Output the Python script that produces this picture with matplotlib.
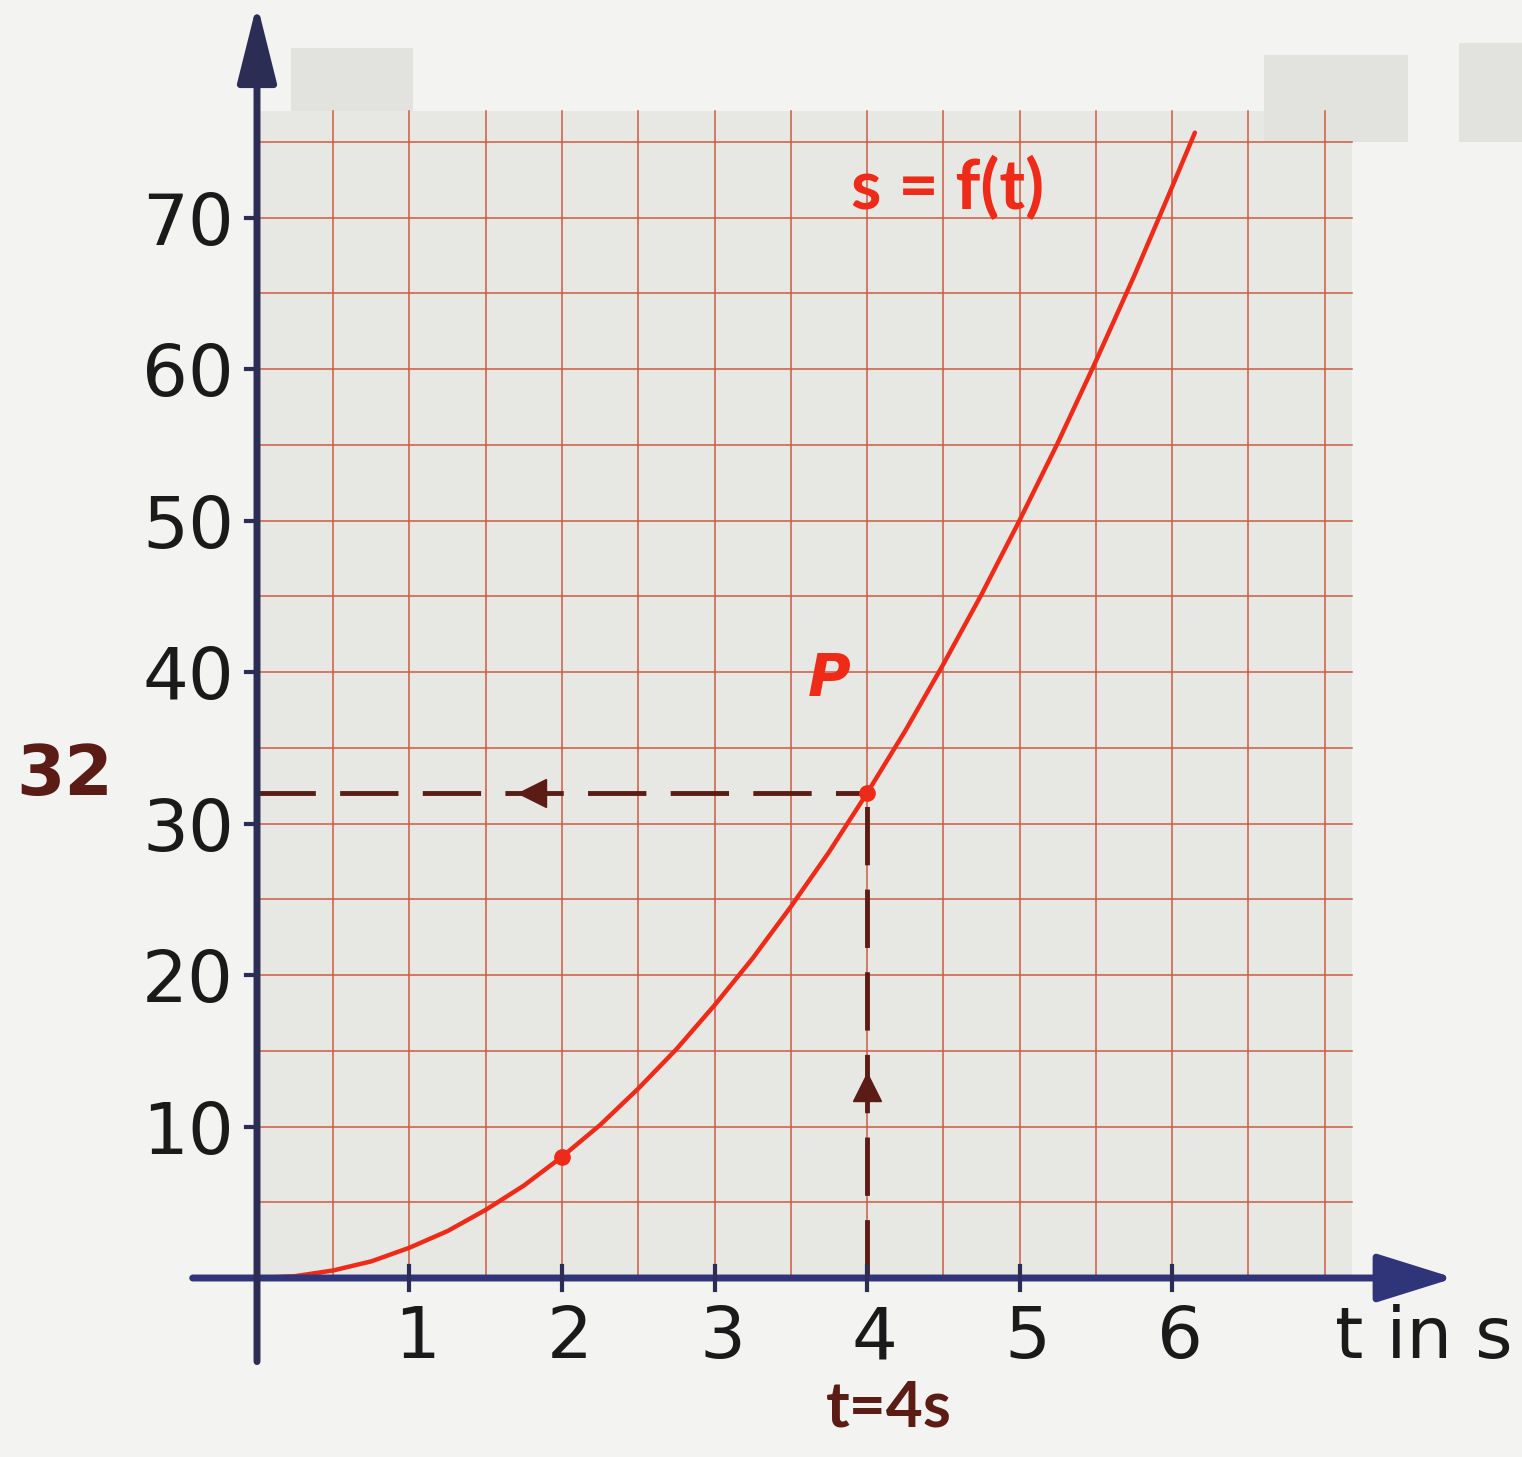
import matplotlib
matplotlib.use("Agg")
import matplotlib.pyplot as plt
from matplotlib.patches import Rectangle

# curve s = f(t)
t_vals = [0, 0.25, 0.5, 0.75, 1, 1.25, 1.5, 1.75, 2, 2.25, 2.5, 2.75, 3,
          3.25, 3.5, 3.75, 4, 4.25, 4.5, 4.75, 5, 5.25, 5.5, 5.75, 6, 6.15]
s_vals = [0, 0.12, 0.5, 1.1, 2, 3.1, 4.5, 6.1, 8, 10.1, 12.5, 15.1, 18,
          21.1, 24.5, 28.1, 32, 36.1, 40.5, 45.1, 50, 55.1, 60.5, 66.1, 72, 75.6]

marked_t = [2, 4]
marked_s = [8, 32]

point_t = 4
point_s = 32

x_ticks = [1, 2, 3, 4, 5, 6]
y_ticks = [10, 20, 30, 40, 50, 60, 70]

RED = "#ee2a18"
BROWN = "#5a1c14"
GRIDC = "#cf5a44"
AXC = "#2c2d55"

W, H = 1522, 1457
fig = plt.figure(figsize=(W / 100, H / 100), dpi=100)
fig.patch.set_facecolor("#f3f3f1")
ax = fig.add_axes([0, 0, 1, 1])
ax.set_facecolor("#f3f3f1")

# pixel -> data mapping (origin at px 257,1278)
x0, xs = 257, 152.5
y0, ys = 1278, 15.15
ax.set_xlim(-x0 / xs, (W - x0) / xs)
ax.set_ylim(-(H - y0) / ys, y0 / ys)
ax.axis("off")

# graph paper
ax.add_patch(Rectangle((0, 0), 7.18, 77, facecolor="#e7e7e3", edgecolor="none", zorder=0))
for gx in [i * 0.5 for i in range(1, 15)]:
    ax.plot([gx, gx], [0, 77], color=GRIDC, lw=1.1, zorder=1)
for gy in range(5, 80, 5):
    ax.plot([0, 7.18], [gy, gy], color=GRIDC, lw=1.1, zorder=1)

# tape pieces
for (tx, ty, tw, th) in [(0.22, 77, 0.8, 4.2), (6.6, 75, 0.95, 5.7), (7.88, 75, 0.5, 6.5)]:
    ax.add_patch(Rectangle((tx, ty), tw, th, facecolor="#e2e2de", edgecolor="none", zorder=0))

# axes with arrows
ax.annotate("", xy=(7.87, 0), xytext=(-0.44, 0),
            arrowprops=dict(arrowstyle="-|>,head_length=1.6,head_width=0.5",
                            color="#30357a", lw=5, mutation_scale=30), zorder=6)
ax.annotate("", xy=(0, 84.3), xytext=(0, -5.7),
            arrowprops=dict(arrowstyle="-|>,head_length=1.6,head_width=0.4",
                            color=AXC, lw=5, mutation_scale=30), zorder=6)
for xt in x_ticks:
    ax.plot([xt, xt], [-0.8, 0.8], color=AXC, lw=3, zorder=6)
for yt in y_ticks:
    ax.plot([-0.07, 0], [yt, yt], color=AXC, lw=3, zorder=6)

tick_font = dict(family="DejaVu Sans", fontsize=52, color="#1a1a1a")
for xt in x_ticks:
    ax.text(xt + 0.05, -4.0, str(xt), ha="center", va="center", **tick_font)
for yt in y_ticks:
    ax.text(-0.15, yt - 0.5, str(yt), ha="right", va="center", **tick_font)
ax.text(7.65, -4.0, "t in s", ha="center", va="center", **tick_font)

# dashed guide lines
ax.plot([0, point_t], [point_s, point_s], color=BROWN, lw=3.5, dashes=(12, 5), zorder=2)
ax.plot([point_t, point_t], [0, point_s], color=BROWN, lw=3.5, dashes=(12, 5), zorder=2)
ax.plot([1.8], [point_s], marker="<", color=BROWN, markersize=20, zorder=3)
ax.plot([point_t], [12.6], marker="^", color=BROWN, markersize=20, zorder=3)

# curve
ax.plot(t_vals, s_vals, color=RED, lw=3.2, zorder=4, solid_capstyle="round")
ax.plot(marked_t, marked_s, "o", color=RED, markersize=11, zorder=5)

ax.text(4.53, 71.9, "s = f(t)", color=RED, fontsize=50, fontweight="bold",
        family="Lato", ha="center", va="center", zorder=5)
ax.text(3.75, 39.5, "P", color=RED, fontsize=42, fontweight="bold", style="italic",
        family="DejaVu Sans", ha="center", va="center", zorder=5)
ax.text(-1.26, 33.2, "32", color=BROWN, fontsize=50, fontweight="bold",
        family="DejaVu Sans", ha="center", va="center")
ax.text(4.14, -8.6, "t=4s", color=BROWN, fontsize=46, fontweight="bold",
        family="Lato", ha="center", va="center")

fig.savefig("out.png", dpi=100, facecolor=fig.get_facecolor())
